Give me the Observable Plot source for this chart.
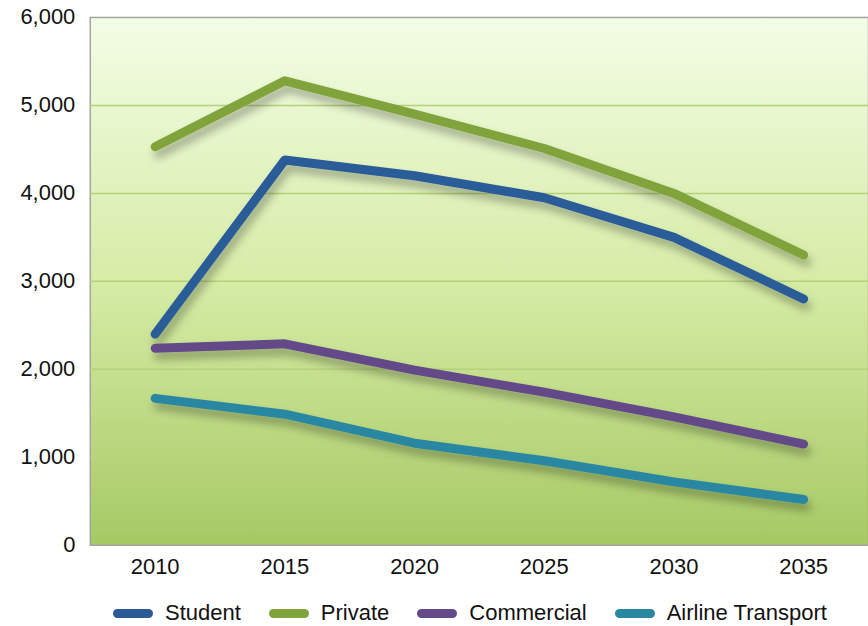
<!DOCTYPE html>
<html><head><meta charset="utf-8">
<script src="https://cdn.jsdelivr.net/npm/d3@7"></script>
<script src="https://cdn.jsdelivr.net/npm/@observablehq/plot@0.6"></script>
<style>
html,body{margin:0;padding:0;background:#fff;overflow:hidden;width:868px;height:626px}
#chart{position:relative;width:868px;height:626px;font-family:"Liberation Sans",Arial,Helvetica,sans-serif}
#legend{position:absolute;left:113px;top:601px;display:flex;align-items:center;font-size:22px;line-height:24px;color:#111;white-space:nowrap}
.item{display:flex;align-items:center;margin-right:28px}
.sw{width:40px;height:9px;border-radius:5px;margin-right:12px}
</style></head><body>
<div id="chart"></div>
<script>
const years = ["2010","2015","2020","2025","2030","2035"];
const seriesNames = ["Student","Private","Commercial","Airline Transport"];
const student = [2400, 4380, 4200, 3950, 3500, 2800];
const privateV = [4530, 5280, 4900, 4510, 4000, 3300];
const commercial = [2240, 2290, 1990, 1740, 1460, 1150];
const airline = [1670, 1490, 1160, 960, 720, 520];
const colors = ["#2b5b97", "#80a33b", "#644a88", "#2a87a1"];
const yTicks = [0, 1000, 2000, 3000, 4000, 5000, 6000];

const valuesBySeries = [student, privateV, commercial, airline];
const data = [];
seriesNames.forEach((s, i) => years.forEach((y, j) => data.push({series: s, year: y, value: valuesBySeries[i][j]})));

const plot = Plot.plot({
  width: 870, height: 590,
  marginLeft: 90, marginRight: 0, marginTop: 17, marginBottom: 44,
  style: {fontFamily: '"Liberation Sans",Arial,Helvetica,sans-serif', fontSize: "22px", color: "#111", background: "transparent", overflow: "visible"},
  x: {type: "band", domain: years, padding: 0, axis: null, label: null},
  y: {domain: [0, 6000], axis: null, label: null},
  color: {domain: seriesNames, range: colors},
  marks: [
    Plot.frame({fill: "url(#bgGrad)", stroke: "#a3a3a3", strokeWidth: 1.5}),
    Plot.ruleY(yTicks.filter(d => d > 0 && d < 6000), {stroke: "#b4d27a", strokeWidth: 1.5}),
    Plot.axisY({ticks: yTicks, tickSize: 0, tickPadding: 15, tickFormat: d3.format(","), fontSize: 22, label: null}),
    Plot.axisX({tickSize: 0, tickPadding: 13, fontSize: 22, label: null}),
    Plot.line(data, {x: "year", y: "value", z: "series", stroke: "series", strokeWidth: 9, strokeLinecap: "round", strokeLinejoin: "round"})
  ]
});

const svg = d3.select(plot);
const defs = svg.insert("defs", ":first-child");
const g = defs.append("linearGradient").attr("id", "bgGrad").attr("x1", 0).attr("y1", 0).attr("x2", 0).attr("y2", 1);
g.append("stop").attr("offset", "0%").attr("stop-color", "#f3fde6");
g.append("stop").attr("offset", "50%").attr("stop-color", "#d6eca6");
g.append("stop").attr("offset", "100%").attr("stop-color", "#a6c964");
const f = defs.append("filter").attr("id", "shadow").attr("x", "-10%").attr("y", "-20%").attr("width", "130%").attr("height", "150%");
f.append("feDropShadow").attr("dx", 3).attr("dy", 7).attr("stdDeviation", 4).attr("flood-color", "#000").attr("flood-opacity", 0.3);
svg.selectAll('g[aria-label="line"] path').attr("filter", "url(#shadow)");
svg.selectAll('g[aria-label="y-axis tick label"] text, g[aria-label="x-axis tick label"] text').attr("fill", "#111");

const chart = document.getElementById("chart");
chart.appendChild(plot);
const legend = document.createElement("div");
legend.id = "legend";
seriesNames.forEach((s, i) => {
  const it = document.createElement("div"); it.className = "item";
  const sw = document.createElement("div"); sw.className = "sw"; sw.style.background = colors[i];
  const t = document.createElement("span"); t.textContent = s;
  it.appendChild(sw); it.appendChild(t); legend.appendChild(it);
});
chart.appendChild(legend);
</script>
</body></html>
